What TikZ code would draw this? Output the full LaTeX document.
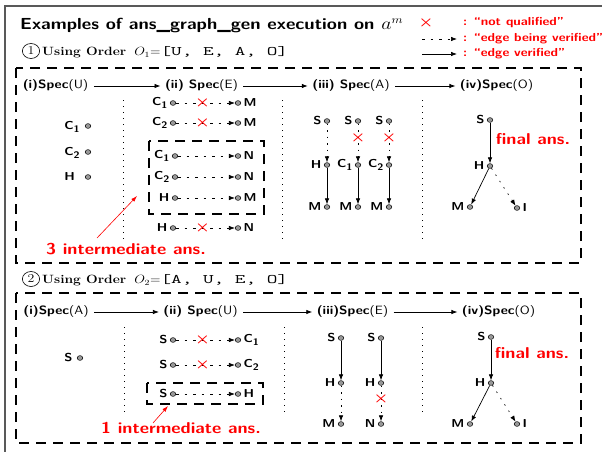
\documentclass[tikz,border=0pt]{standalone}
\usepackage{fontspec}
\usetikzlibrary{arrows.meta,calc}
\newcommand{\mysub}[1]{\raisebox{-0.45ex}{\fontsize{9.5}{10}\selectfont #1}}
\tikzset{
 vtx/.style={circle, inner sep=0pt, minimum size=4.8pt, fill=black!40, draw=black, line width=0.5pt},
 lab/.style={font=\sffamily\bfseries\fontsize{11.5}{13}\selectfont, inner sep=1pt},
 hdr/.style={font=\sffamily\bfseries\fontsize{12}{14}\selectfont, inner sep=2pt},
 ok/.style={-{Latex[length=6pt,width=4.5pt]}, line width=0.7pt},
 chk/.style={ok, dash pattern=on 2.5pt off 6pt},
 sparse/.style={ok, dash pattern=on 1.5pt off 6pt},
 dotv/.style={ok, dash pattern=on 1.5pt off 5pt},
 panel/.style={line width=1.6pt, dash pattern=on 10pt off 7pt},
 sepl/.style={line width=0.9pt, dash pattern=on 1pt off 5pt},
 cross/.style={text=red, font=\fontsize{15}{15}\selectfont\boldmath, inner sep=0pt},
 redtxt/.style={text=red, font=\sffamily\bfseries\fontsize{15.7}{18}\selectfont, inner sep=0pt},
 leg/.style={text=red, font=\sffamily\bfseries\fontsize{11.6}{13}\selectfont, anchor=west, inner sep=0pt},
 harrow/.style={-{Latex[length=6pt,width=4.5pt]}, line width=0.8pt, shorten <=3pt, shorten >=2pt},
 redarrow/.style={red, -{Latex[length=6pt,width=4pt]}, line width=0.6pt},
 lft/.style={label={[lab,label distance=1pt]left:#1}},
 rgt/.style={label={[lab,label distance=1pt]right:#1}},
 cnum/.style={circle, draw, line width=0.6pt, inner sep=0pt, minimum size=15pt, font=\fontsize{12}{12}\selectfont},
 order/.style={anchor=west, inner sep=0pt, font=\fontsize{12}{14}\selectfont},
}
\begin{document}
\begin{tikzpicture}[x=1pt,y=-1pt, every node/.append style={xscale=1.15, transform shape}]
\useasboundingbox (0,0) rectangle (602,452);
% outer frame
\draw[black!65, line width=1.2pt] (5,452) -- (5,6) -- (602,6);
% title
\node[anchor=west, inner sep=0pt, font=\sffamily\bfseries\fontsize{16}{18}\selectfont] (title) at (20,26) {Examples of ans\_graph\_gen execution on \mbox{\fontsize{16}{16}\selectfont$a^m$}};
% legend
\node[cross] (lx) at (426,23) {$\times$};
\node[leg] (l1) at (463,23) {: ``not qualified''};
\node[leg] (l2) at (463,39) {: ``edge being verified''};
\node[leg] (l3) at (463,54) {: ``edge verified''};
\coordinate (l2a) at (422,39); \coordinate (l2b) at (457,39);
\coordinate (l3a) at (422,54); \coordinate (l3b) at (457,54);
\draw[chk] (l2a) -- (l2b);
\draw[ok] (l3a) -- (l3b);
% order 1
\node[cnum] (c1) at (31,51) {1};
\node[order] (o1) at (42,52) {\textbf{Using Order}\hspace{7pt}$O_1{=}$\scalebox{1.38}[1]{\fontsize{13}{14}\selectfont\texttt{[U, E, A, O]}}};
% panel 1
\draw[panel] (16,68) rectangle (581,263);
\node[hdr] (p1h1) at (55.5,86) {(i)Spec\textmd{(U)}};
\node[hdr] (p1h2) at (201.5,86) {(ii) Spec\textmd{(E)}};
\node[hdr] (p1h3) at (351,86) {(iii) Spec\textmd{(A)}};
\node[hdr] (p1h4) at (496.5,86) {(iv)Spec\textmd{(O)}};
\draw[harrow] (p1h1) -- (p1h2);
\draw[harrow] (p1h2) -- (p1h3);
\draw[harrow] (p1h3) -- (p1h4);
\draw[sepl] (123,100) -- (123,240);
\draw[sepl] (282,100) -- (282,240);
\draw[sepl] (422,100) -- (422,240);
% col i
\node[vtx] (p1u1) at (88,126) {}; \node[lab, anchor=west] (p1u1l) at (63,127) {C\mysub{1}};
\node[vtx] (p1u2) at (88,152) {}; \node[lab, anchor=west] (p1u2l) at (63,153) {C\mysub{2}};
\node[vtx] (p1u3) at (88,177) {}; \node[lab, anchor=west] (p1u3l) at (63,177) {H};
% col ii
\node[vtx, lft={C\mysub{1}}] (p1a1) at (173,103) {}; \node[vtx, rgt=M] (p1b1) at (238,103) {};
\node[vtx, lft={C\mysub{2}}] (p1a2) at (173,123) {}; \node[vtx, rgt=M] (p1b2) at (238,123) {};
\node[vtx, lft={C\mysub{1}}] (p1a3) at (175,156) {}; \node[vtx, rgt=N] (p1b3) at (238,156) {};
\node[vtx, lft={C\mysub{2}}] (p1a4) at (175,177) {}; \node[vtx, rgt=N] (p1b4) at (238,177) {};
\node[vtx, lft=H] (p1a5) at (175,198) {}; \node[vtx, rgt=M] (p1b5) at (238,198) {};
\node[vtx, lft=H] (p1a6) at (173,228) {}; \node[vtx, rgt=N] (p1b6) at (238,228) {};
\draw[chk] (p1a1) -- node[cross, pos=0.45] (p1x1) {$\times$} (p1b1);
\draw[chk] (p1a2) -- node[cross, pos=0.45] (p1x2) {$\times$} (p1b2);
\draw[chk] (p1a3) -- (p1b3);
\draw[chk] (p1a4) -- (p1b4);
\draw[chk] (p1a5) -- (p1b5);
\draw[chk] (p1a6) -- node[cross, pos=0.45] (p1x6) {$\times$} (p1b6);
\draw[panel] (149,141) rectangle (264,214);
\node[redtxt] (p1t) at (126,249) {3 intermediate ans.};
\coordinate (p1ra) at (97,238); \coordinate (p1rb) at (137,196);
\draw[redarrow] (p1ra) -- (p1rb);
% col iii
\node[vtx, lft=S] (p1s1) at (327,121) {};
\node[vtx, lft=S] (p1s2) at (358,121) {};
\node[vtx, lft=S] (p1s3) at (389,121) {};
\node[vtx, lft=H] (p1m1) at (327,165) {};
\node[vtx, lft={C\mysub{1}}] (p1m2) at (358,165) {};
\node[vtx, lft={C\mysub{2}}] (p1m3) at (389,165) {};
\node[vtx, lft=M] (p1e1) at (327,207) {};
\node[vtx, lft=M] (p1e2) at (358,207) {};
\node[vtx, lft=M] (p1e3) at (389,207) {};
\draw[dotv] (p1s1) -- (p1m1);
\draw[dotv] (p1s2) -- node[cross, pos=0.38] (p1x7) {$\times$} (p1m2);
\draw[dotv] (p1s3) -- node[cross, pos=0.38] (p1x8) {$\times$} (p1m3);
\draw[ok] (p1m1) -- (p1e1);
\draw[ok] (p1m2) -- (p1e2);
\draw[ok] (p1m3) -- (p1e3);
% col iv
\node[vtx, lft=S] (p1fs) at (490,120) {};
\node[vtx, lft=H] (p1fh) at (490,166) {};
\node[vtx, lft=M] (p1fm) at (470,207) {};
\node[vtx, rgt=I] (p1fi) at (517,208) {};
\draw[ok] (p1fs) -- (p1fh);
\draw[ok] (p1fh) -- (p1fm);
\draw[sparse] (p1fh) -- (p1fi);
\node[redtxt] (p1fa) at (533,139) {final ans.};
% order 2
\node[cnum] (c2) at (31,279) {2};
\node[order] (o2) at (42,280) {\textbf{Using Order}\hspace{7pt}$O_2{=}$\scalebox{1.38}[1]{\fontsize{13}{14}\selectfont\texttt{[A, U, E, O]}}};
% panel 2
\draw[panel] (16,293) rectangle (581,443);
\node[hdr] (p2h1) at (56,312) {(i)Spec\textmd{(A)}};
\node[hdr] (p2h2) at (200.5,312) {(ii) Spec\textmd{(U)}};
\node[hdr] (p2h3) at (352.5,312) {(iii)Spec\textmd{(E)}};
\node[hdr] (p2h4) at (498.5,312) {(iv)Spec\textmd{(O)}};
\draw[harrow] (p2h1) -- (p2h2);
\draw[harrow] (p2h2) -- (p2h3);
\draw[harrow] (p2h3) -- (p2h4);
\draw[sepl] (124,327) -- (124,415);
\draw[sepl] (284,327) -- (284,415);
\draw[sepl] (422,327) -- (422,415);
% col i
\node[vtx] (p2u1) at (80,358) {}; \node[lab, anchor=west] (p2u1l) at (63,358) {S};
% col ii
\node[vtx, lft=S] (p2a1) at (173,340) {}; \node[vtx, rgt={C\mysub{1}}] (p2b1) at (238,340) {};
\node[vtx, lft=S] (p2a2) at (173,365) {}; \node[vtx, rgt={C\mysub{2}}] (p2b2) at (238,365) {};
\node[vtx, lft=S] (p2a3) at (173,394) {}; \node[vtx, rgt=H] (p2b3) at (238,394) {};
\draw[chk] (p2a1) -- node[cross, pos=0.45] (p2x1) {$\times$} (p2b1);
\draw[chk] (p2a2) -- node[cross, pos=0.45] (p2x2) {$\times$} (p2b2);
\draw[chk] (p2a3) -- (p2b3);
\draw[panel] (147,383) rectangle (263,404);
\node[redtxt] (p2t) at (181,428) {1 intermediate ans.};
\coordinate (p2ra) at (153,423); \coordinate (p2rb) at (168,406);
\draw[redarrow] (p2ra) -- (p2rb);
% col iii
\node[vtx, lft=S] (p2s1) at (341,338) {};
\node[vtx, lft=S] (p2s2) at (381,338) {};
\node[vtx, lft=H] (p2m1) at (341,383) {};
\node[vtx, lft=H] (p2m2) at (381,383) {};
\node[vtx, lft=M] (p2e1) at (341,424) {};
\node[vtx, lft=N] (p2e2) at (381,424) {};
\draw[ok] (p2s1) -- (p2m1);
\draw[ok] (p2s2) -- (p2m2);
\draw[dotv] (p2m1) -- (p2e1);
\draw[dotv] (p2m2) -- node[cross, pos=0.38] (p2x3) {$\times$} (p2e2);
% col iv
\node[vtx, lft=S] (p2fs) at (491,337) {};
\node[vtx, lft=H] (p2fh) at (491,383) {};
\node[vtx, lft=M] (p2fm) at (470,424) {};
\node[vtx, rgt=I] (p2fi) at (517,424) {};
\draw[ok] (p2fs) -- (p2fh);
\draw[ok] (p2fh) -- (p2fm);
\draw[sparse] (p2fh) -- (p2fi);
\node[redtxt] (p2fa) at (532,353) {final ans.};
\end{tikzpicture}
\end{document}
